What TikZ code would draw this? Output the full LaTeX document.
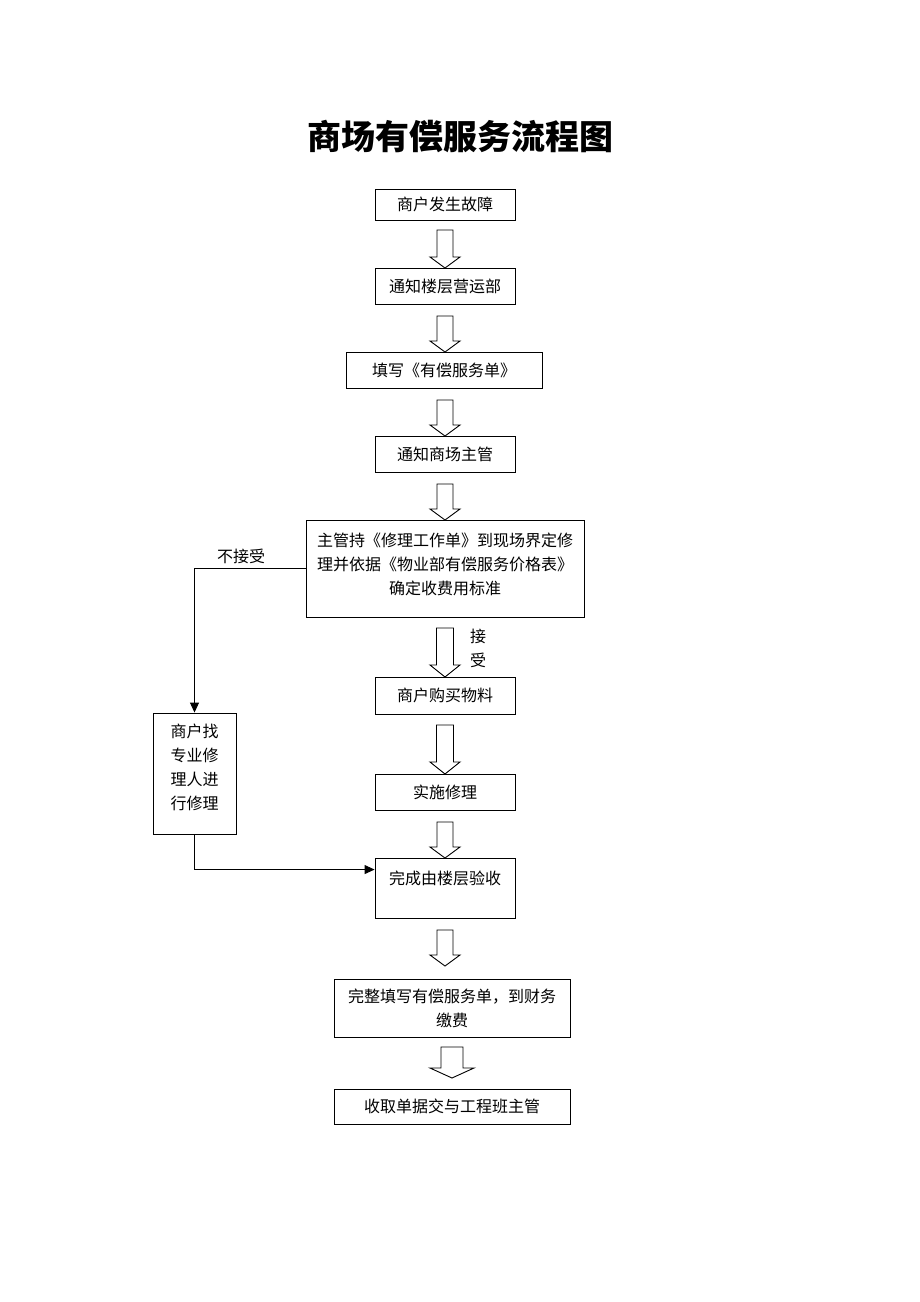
\documentclass[tikz,border=0pt]{standalone}
\usepackage{fontspec}
\setmainfont{Noto Sans CJK SC}
\usetikzlibrary{arrows.meta}
\newcommand\hollowarrow[6]{% cx, shaft half, head half, top, headstart, tip
  \draw[line width=0.9pt,fill=white] (#1-#2,#4) -- (#1+#2,#4) -- (#1+#2,#5) -- (#1+#3,#5) -- (#1,#6) -- (#1-#3,#5) -- (#1-#2,#5) -- cycle;}
\begin{document}
\begin{tikzpicture}[x=1pt,y=-1pt,
  box/.style={draw, line width=0.9pt, inner sep=0pt, align=center, font=\fontsize{16}{24}\selectfont},
  txt/.style={inner sep=0pt, align=center, font=\fontsize{16}{24}\selectfont},
  conn/.style={line width=0.9pt, -{Triangle[length=10pt,width=9pt]}}]
\useasboundingbox (0,0) rectangle (920,1302);
\fill[white] (0,0) rectangle (920,1302);
\node[font=\fontsize{34}{40}\selectfont\bfseries] (title) at (460,137) {商场有偿服务流程图};

\node[box, minimum width=140pt, minimum height=31pt] (n1) at (445,204.5) {商户发生故障};
\node[box, minimum width=140pt, minimum height=36pt] (n2) at (445,286) {通知楼层营运部};
\node[box, minimum width=196pt, minimum height=36pt] (n3) at (444,370) {填写《有偿服务单》};
\node[box, minimum width=140pt, minimum height=36pt] (n4) at (445,454) {通知商场主管};
\node[box, minimum width=278pt, minimum height=97pt] (n5) at (445,568.5) {};
\node[txt] (n5t) at (445,564) {主管持《修理工作单》到现场界定修\\理并依据《物业部有偿服务价格表》\\确定收费用标准};
\node[box, minimum width=140pt, minimum height=37pt] (n6) at (445,695.5) {商户购买物料};
\node[box, minimum width=140pt, minimum height=36pt] (n7) at (445,792) {实施修理};
\node[box, minimum width=140pt, minimum height=60pt] (n8) at (445,888) {};
\node[txt] (n8t) at (445,878) {完成由楼层验收};
\node[box, minimum width=236pt, minimum height=58pt] (n9) at (452,1008) {完整填写有偿服务单，到财务\\缴费};
\node[box, minimum width=236pt, minimum height=35pt] (n10) at (452,1106.5) {收取单据交与工程班主管};
\node[box, minimum width=83pt, minimum height=121pt] (L) at (194.5,773.5) {};
\node[txt] (Lt) at (194.5,767.5) {商户找\\专业修\\理人进\\行修理};

\node[txt] (lab1) at (241,556) {不接受};
\node[txt] (lab2) at (478,648) {接\\受};

\hollowarrow{445}{8}{15}{230}{257}{268}
\hollowarrow{445}{8}{15}{316}{341}{352}
\hollowarrow{445}{8}{15}{400}{425}{436}
\hollowarrow{445}{8}{15}{484}{509}{520}
\hollowarrow{445}{8.5}{15}{628}{665}{677}
\hollowarrow{445}{8.5}{15}{725}{762}{774}
\hollowarrow{445}{8}{15}{822}{847}{858}
\hollowarrow{445}{8}{15}{930}{955}{966}
\hollowarrow{452}{11}{22}{1047}{1068}{1078}

\draw[conn] (n5.west) -| (L.north);
\coordinate (c8) at ([yshift=-12pt]n8.north west);
\draw[conn] (L.south) |- (c8);
\end{tikzpicture}
\end{document}
